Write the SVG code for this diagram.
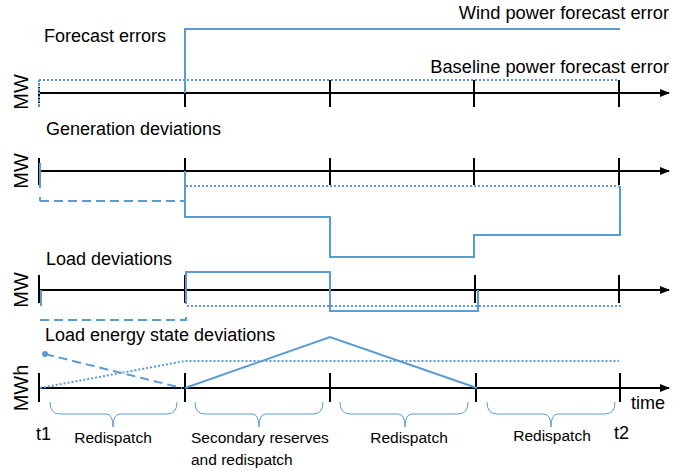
<svg xmlns="http://www.w3.org/2000/svg" width="699" height="471" viewBox="0 0 699 471">
  <defs>
    <marker id="arrow" markerWidth="10" markerHeight="8" refX="9" refY="4" orient="auto" markerUnits="userSpaceOnUse">
      <path d="M0,0 L10,4 L0,8 Z" fill="#000"/>
    </marker>
    <style>
      .axis { stroke: #000; stroke-width: 2; fill: none; }
      .tick { stroke: #000; stroke-width: 2; }
      .solid { stroke: #5B9BD5; stroke-width: 2; fill: none; }
      .dash { stroke: #5B9BD5; stroke-width: 2; fill: none; stroke-dasharray: 9 5; }
      .dot { stroke: #5B9BD5; stroke-width: 2; fill: none; stroke-dasharray: 2 2; }
      .brace { stroke: #5B9BD5; stroke-width: 1; fill: none; }
      text { font-family: "Liberation Sans", Arial, sans-serif; font-size: 18px; fill: #000; }
      .legend { font-size: 18.3px; }
      .label { font-size: 15.5px; }
      .unit { font-size: 20px; }
    </style>
  </defs>
  <rect width="699" height="471" fill="#fff"/>

  <!-- Panel 1: forecast errors -->
  <g id="panel-forecast">
    <text x="44" y="42">Forecast errors</text>
    <text class="legend" x="669" y="19" text-anchor="end">Wind power forecast error</text>
    <text class="legend" x="669" y="73" text-anchor="end">Baseline power forecast error</text>
    <text class="unit" x="0" y="0" transform="translate(28,92) rotate(-90)" text-anchor="middle">MW</text>
    <line class="axis" x1="39" y1="93" x2="669" y2="93" marker-end="url(#arrow)"/>
    <line class="tick" x1="39" y1="80" x2="39" y2="107" stroke-dasharray="2 1.5"/>
    <line class="tick" x1="185" y1="80" x2="185" y2="107"/>
    <line class="tick" x1="330" y1="80" x2="330" y2="107"/>
    <line class="tick" x1="474" y1="80" x2="474" y2="107"/>
    <line class="tick" x1="619" y1="80" x2="619" y2="107"/>
    <path class="dot" d="M39,80 H619"/>
    <path class="dot" d="M39,80 V107"/>
    <path class="solid" d="M185,93 V29 H620"/>
  </g>

  <!-- Panel 2: generation deviations -->
  <g id="panel-generation">
    <text x="46" y="135">Generation deviations</text>
    <text class="unit" x="0" y="0" transform="translate(28,171) rotate(-90)" text-anchor="middle">MW</text>
    <line class="axis" x1="39" y1="171" x2="669" y2="171" marker-end="url(#arrow)"/>
    <line class="tick" x1="39" y1="158" x2="39" y2="185"/>
    <line class="tick" x1="185" y1="158" x2="185" y2="185"/>
    <line class="tick" x1="330" y1="158" x2="330" y2="185"/>
    <line class="tick" x1="474" y1="158" x2="474" y2="185"/>
    <line class="tick" x1="619" y1="158" x2="619" y2="185"/>
    <path class="solid" d="M40,163 V188"/>
    <path class="dash" d="M40,197 V201 M40,201 H185"/>
    <path class="dot" d="M185,171 V186 H619"/>
    <path class="solid" d="M185,171 V217 H330 V257 H474 V235 H620 V186"/>
  </g>

  <!-- Panel 3: load deviations -->
  <g id="panel-load">
    <text x="46" y="265">Load deviations</text>
    <text class="unit" x="0" y="0" transform="translate(28,290) rotate(-90)" text-anchor="middle">MW</text>
    <line class="axis" x1="39" y1="290" x2="669" y2="290" marker-end="url(#arrow)"/>
    <line class="tick" x1="39" y1="275" x2="39" y2="303"/>
    <line class="tick" x1="185" y1="275" x2="185" y2="303"/>
    <line class="tick" x1="330" y1="275" x2="330" y2="303"/>
    <line class="tick" x1="475" y1="275" x2="475" y2="303"/>
    <line class="tick" x1="619" y1="275" x2="619" y2="303"/>
    <path class="solid" d="M41,290 V306"/>
    <path class="dash" d="M40,320 H186 V312"/>
    <path class="dot" d="M187,306 H621"/>
    <path class="solid" d="M186,304 V272 H330 V311 H478 V290"/>
  </g>

  <!-- Panel 4: load energy state deviations -->
  <g id="panel-energy">
    <text x="45" y="341">Load energy state deviations</text>
    <text class="unit" x="0" y="0" transform="translate(28,388) rotate(-90)" text-anchor="middle">MWh</text>
    <line class="axis" x1="39" y1="388" x2="669" y2="388" marker-end="url(#arrow)"/>
    <line class="tick" x1="39" y1="373" x2="39" y2="402"/>
    <line class="tick" x1="185" y1="373" x2="185" y2="402"/>
    <line class="tick" x1="330" y1="373" x2="330" y2="402"/>
    <line class="tick" x1="476" y1="373" x2="476" y2="402"/>
    <line class="tick" x1="620" y1="373" x2="620" y2="402"/>
    <circle cx="45" cy="354" r="3" fill="#5B9BD5"/>
    <path class="dash" d="M45,354 L182,388"/>
    <path class="dot" d="M40,388 L185,361 H619"/>
    <path class="solid" d="M185,388 L330,337 L477,388"/>
    <text x="631" y="409">time</text>
  </g>

  <!-- Interval braces and labels -->
  <g id="intervals">
    <path class="brace" d="M50,402 Q50,414 60,414 H106 Q113,414 113,427 Q113,414 120,414 H167 Q177,414 177,402"/>
    <path class="brace" d="M195,402 Q195,414 205,414 H252 Q259,414 259,427 Q259,414 266,414 H313 Q323,414 323,402"/>
    <path class="brace" d="M340,402 Q340,414 350,414 H398 Q405,414 405,427 Q405,414 412,414 H458 Q468,414 468,402"/>
    <path class="brace" d="M487,402 Q487,414 497,414 H544 Q551,414 551,427 Q551,414 558,414 H605 Q615,414 615,402"/>
    <text x="36" y="440">t1</text>
    <text class="label" x="113" y="443" text-anchor="middle">Redispatch</text>
    <text class="label" x="191" y="443">Secondary reserves</text>
    <text class="label" x="191" y="465">and redispatch</text>
    <text class="label" x="409" y="443" text-anchor="middle">Redispatch</text>
    <text class="label" x="552" y="441" text-anchor="middle">Redispatch</text>
    <text x="614" y="439">t2</text>
  </g>
</svg>
